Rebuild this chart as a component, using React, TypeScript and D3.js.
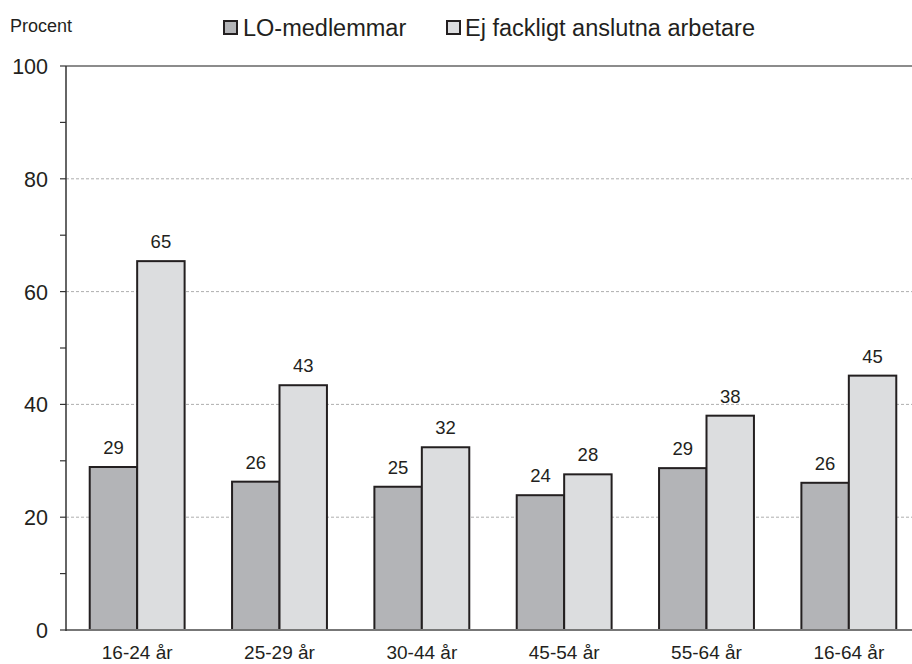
import React from "react";
import * as d3 from "d3";

const categories = ["16-24 år", "25-29 år", "30-44 år", "45-54 år", "55-64 år", "16-64 år"];
const seriesNames = ["LO-medlemmar", "Ej fackligt anslutna arbetare"];
const loValues = [28.9, 26.3, 25.4, 23.9, 28.7, 26.1];
const ejValues = [65.4, 43.4, 32.4, 27.6, 38.0, 45.1];
const yTicks = [0, 20, 40, 60, 80, 100];
const minorTicks = [0, 10, 20, 30, 40, 50, 60, 70, 80, 90, 100];

const W = 912;
const H = 664;
const FONT = "'Liberation Sans', Arial, sans-serif";
const fills = ["#b3b4b7", "#dcdddf"];

export default function App() {
  const left = 66;
  const right = 920;
  const top = 66;
  const bottom = 630;
  const x = d3.scaleBand<string>().domain(categories).range([left, right]).paddingInner(1 / 3).paddingOuter(1 / 6);
  const x1 = d3.scaleBand<string>().domain(seriesNames).range([0, x.bandwidth()]);
  const y = d3.scaleLinear().domain([0, 100]).range([bottom, top]);
  const series = [loValues, ejValues];
  const fmt = d3.format(".0f");

  return (
    <svg width={W} height={H} style={{ position: "absolute", left: 0, top: 0, background: "#fff" }}>
      <rect x={0} y={0} width={W} height={H} fill="#fff" />
      {yTicks.filter((t) => t > 0 && t < 100).map((t) => (
        <line key={t} x1={left} x2={W} y1={y(t)} y2={y(t)} stroke="#999" strokeWidth={0.8} strokeDasharray="3,2" />
      ))}
      <line x1={left} x2={W} y1={y(100)} y2={y(100)} stroke="#8c8c8c" strokeWidth={2} />
      {categories.map((c, i) => (
        <g key={c}>
          {series.map((vals, s) => (
            <rect
              key={s}
              x={(x(c) as number) + (x1(seriesNames[s]) as number)}
              y={y(vals[i])}
              width={x1.bandwidth()}
              height={y(0) - y(vals[i])}
              fill={fills[s]}
              stroke="#231f20"
              strokeWidth={2}
            />
          ))}
          {series.map((vals, s) => (
            <text
              key={"l" + s}
              x={(x(c) as number) + (x1(seriesNames[s]) as number) + x1.bandwidth() / 2}
              y={y(vals[i]) - 13}
              textAnchor="middle"
              fontFamily={FONT}
              fontSize={18.5}
              fill="#231f20"
            >
              {fmt(vals[i])}
            </text>
          ))}
          <text
            x={(x(c) as number) + x.bandwidth() / 2}
            y={659}
            textAnchor="middle"
            fontFamily={FONT}
            fontSize={19}
            fill="#231f20"
          >
            {c}
          </text>
        </g>
      ))}
      <line x1={left} x2={W} y1={bottom} y2={bottom} stroke="#777" strokeWidth={2} />
      <line x1={left} x2={left} y1={top} y2={bottom + 1} stroke="#333" strokeWidth={1.5} />
      {minorTicks.map((t) => (
        <line key={t} x1={left - 6} x2={left} y1={y(t)} y2={y(t)} stroke="#333" strokeWidth={1.2} />
      ))}
      {yTicks.map((t) => (
        <text key={t} x={48} y={y(t) + 8} textAnchor="end" fontFamily={FONT} fontSize={21.5} fill="#231f20">
          {t}
        </text>
      ))}
      <text x={10} y={32} fontFamily={FONT} fontSize={18} fill="#231f20">Procent</text>
      {[
        { x: 223, tx: 243, name: seriesNames[0], fill: fills[0] },
        { x: 446, tx: 465, name: seriesNames[1], fill: fills[1] },
      ].map((l) => (
        <g key={l.name}>
          <rect x={l.x + 1} y={21} width={13} height={13} fill={l.fill} stroke="#231f20" strokeWidth={2} />
          <text x={l.tx} y={35.5} fontFamily={FONT} fontSize={23.5} fill="#231f20">{l.name}</text>
        </g>
      ))}
    </svg>
  );
}
